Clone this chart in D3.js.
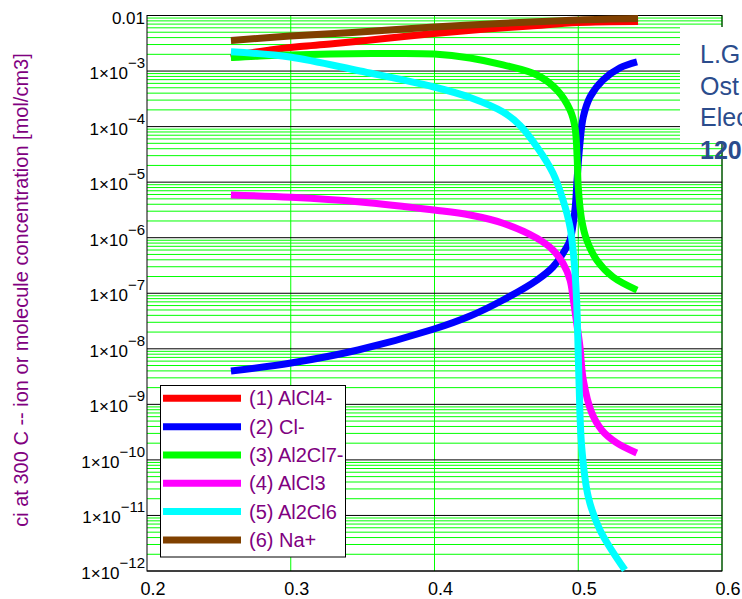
<!DOCTYPE html>
<html>
<head>
<meta charset="utf-8">
<script src="https://cdn.jsdelivr.net/npm/d3@7"></script>
<style>
  html, body { margin: 0; padding: 0; background: #fff; overflow: hidden; }
  svg { display: block; font-family: "Liberation Sans", Arial, sans-serif; }
</style>
</head>
<body>
<svg id="chart" width="742" height="599"></svg>
<script>
// ---- data (x = abscissa, c = concentration in mol/cm3) ----
const seriesNames = ["(1) AlCl4-", "(2) Cl-", "(3) Al2Cl7-", "(4) AlCl3", "(5) Al2Cl6", "(6) Na+"];
const seriesColors = ["#ff0000", "#0000ff", "#00ff00", "#ff00ff", "#00ffff", "#804000"];

const alcl4 = [
  [0.2584, 1.75e-3], [0.2717, 2.11e-3], [0.2856, 2.39e-3], [0.3064, 2.77e-3], [0.3273, 3.07e-3],
  [0.3621, 3.78e-3], [0.3997, 4.74e-3], [0.4317, 5.60e-3], [0.4664, 6.47e-3], [0.4998, 7.48e-3],
  [0.5416, 7.80e-3]
];
const clMinus = [
  [0.2584, 3.98e-9], [0.3002, 5.55e-9], [0.3468, 9.51e-9], [0.3997, 2.27e-8], [0.4247, 3.89e-8],
  [0.4477, 7.57e-8], [0.4713, 1.73e-7], [0.4824, 2.97e-7], [0.4908, 6.01e-7], [0.4943, 9.09e-7],
  [0.4977, 3.16e-6], [0.4993, 1.24e-5], [0.5012, 5.07e-5], [0.5035, 1.49e-4], [0.5082, 3.41e-4],
  [0.5172, 6.90e-4], [0.5290, 1.14e-3], [0.5409, 1.46e-3]
];
const al2cl7 = [
  [0.2584, 1.75e-3], [0.2786, 1.87e-3], [0.2995, 1.95e-3], [0.3273, 2.03e-3], [0.3621, 2.07e-3],
  [0.3997, 2.03e-3], [0.4247, 1.72e-3], [0.4477, 1.29e-3], [0.4713, 8.49e-4], [0.4852, 4.56e-4],
  [0.4943, 1.99e-4], [0.4977, 9.84e-5], [0.4993, 2.51e-5], [0.5000, 8.18e-6], [0.5024, 2.08e-6],
  [0.5059, 9.09e-7], [0.5128, 3.97e-7], [0.5242, 1.96e-7], [0.5409, 1.14e-7]
];
const alcl3 = [
  [0.2584, 5.87e-6], [0.3002, 5.34e-6], [0.3468, 4.45e-6], [0.3997, 3.15e-6], [0.4247, 2.56e-6],
  [0.4477, 1.82e-6], [0.4713, 9.75e-7], [0.4824, 6.00e-7], [0.4894, 3.46e-7], [0.4943, 1.73e-7],
  [0.4966, 7.57e-8], [0.4991, 2.69e-8], [0.5012, 1.08e-8], [0.5035, 2.75e-9], [0.5094, 7.00e-10],
  [0.5163, 3.46e-10], [0.5268, 2.02e-10], [0.5407, 1.33e-10]
];
const al2cl6 = [
  [0.2584, 2.23e-3], [0.2995, 1.79e-3], [0.3482, 1.00e-3], [0.3997, 5.16e-4], [0.4247, 3.34e-4],
  [0.4477, 1.83e-4], [0.4595, 1.05e-4], [0.4713, 4.30e-5], [0.4824, 1.46e-5],
  [0.4894, 4.78e-6], [0.4943, 1.56e-6], [0.4966, 5.31e-7], [0.4984, 1.30e-7], [0.4993, 3.74e-8],
  [0.5005, 2.75e-9], [0.5024, 1.71e-10], [0.5070, 2.15e-11], [0.5151, 5.47e-12], [0.5325, 1.04e-12]
];
const naPlus = [
  [0.2584, 3.55e-3], [0.2995, 4.27e-3], [0.3482, 5.05e-3], [0.3997, 6.21e-3], [0.4456, 7.18e-3],
  [0.4998, 8.30e-3], [0.5416, 8.83e-3]
];
const seriesData = [alcl4, clMinus, al2cl7, alcl3, al2cl6, naPlus];

const xTicks = [0.2, 0.3, 0.4, 0.5, 0.6];
const xTickLabels = ["0.2", "0.3", "0.4", "0.5", "0.6"];
const yDecadeExponents = [-2, -3, -4, -5, -6, -7, -8, -9, -10, -11, -12];
const yAxisTitle = "ci at 300 C -- ion or molecule concentration [mol/cm3]";
const noteLines = ["L.G", "Ost", "Elec", "120"];

// ---- layout ----
const svg = d3.select("#chart");
const x = d3.scaleLinear().domain([0.2, 0.6]).range([147, 722]);
const y = d3.scaleLog().domain([1e-12, 1e-2]).range([571, 15.5]);
const [x0, x1] = x.range();

// minor horizontal gridlines (green)
const minor = [];
for (let e = -12; e < -2; e++) for (let k = 2; k <= 9; k++) minor.push(k * Math.pow(10, e));
svg.append("g").selectAll("line").data(minor).join("line")
  .attr("x1", x0).attr("x2", x1)
  .attr("y1", d => y(d)).attr("y2", d => y(d))
  .attr("stroke", "#00ff00").attr("stroke-width", 1);

// vertical gridlines (green)
svg.append("g").selectAll("line").data(xTicks.slice(1)).join("line")
  .attr("x1", d => x(d)).attr("x2", d => x(d))
  .attr("y1", y.range()[1]).attr("y2", y.range()[0])
  .attr("stroke", "#00ff00").attr("stroke-width", 1);

// decade gridlines (black)
svg.append("g").selectAll("line").data(yDecadeExponents).join("line")
  .attr("x1", x0).attr("x2", x1)
  .attr("y1", d => y(Math.pow(10, d))).attr("y2", d => y(Math.pow(10, d)))
  .attr("stroke", "#000").attr("stroke-width", 1);

// frame
svg.append("rect").attr("x", x0).attr("y", y.range()[1])
  .attr("width", x1 - x0).attr("height", y.range()[0] - y.range()[1])
  .attr("fill", "none").attr("stroke", "#000").attr("stroke-width", 1);

// curves
const line = d3.line().x(d => x(d[0])).y(d => y(d[1])).curve(d3.curveCatmullRom.alpha(0.5));
svg.append("g").selectAll("path").data(seriesData).join("path")
  .attr("d", d => line(d))
  .attr("fill", "none")
  .attr("stroke", (d, i) => seriesColors[i])
  .attr("stroke-width", 7)
  .attr("stroke-linejoin", "round");

// x tick labels
svg.append("g").selectAll("text").data(xTicks).join("text")
  .attr("x", d => x(d) + 6).attr("y", 595)
  .attr("text-anchor", "middle")
  .attr("font-size", 18).attr("fill", "#000")
  .text((d, i) => xTickLabels[i]);

// y tick labels
const yl = svg.append("g").selectAll("text").data(yDecadeExponents).join("text")
  .attr("x", 145).attr("y", d => y(Math.pow(10, d)) + 8)
  .attr("text-anchor", "end").attr("font-size", 17).attr("fill", "#000");
yl.each(function (d) {
  const t = d3.select(this);
  if (d === -2) { t.text("0.01"); return; }
  t.append("tspan").text("1\u00d710");
  t.append("tspan").attr("dy", -11).attr("font-size", 15).text("\u2212" + Math.abs(d));
});

// y axis title
svg.append("text")
  .attr("transform", "translate(28,290) rotate(-90)")
  .attr("text-anchor", "middle")
  .attr("font-size", 20).attr("fill", "#800080")
  .text(yAxisTitle);

// legend
const lg = svg.append("g");
lg.append("rect").attr("x", 160.5).attr("y", 385.5).attr("width", 185).attr("height", 171.5)
  .attr("fill", "#fff").attr("stroke", "#000").attr("stroke-width", 1);
const le = lg.selectAll("g").data(seriesNames).join("g")
  .attr("transform", (d, i) => `translate(0,${398.3 + i * 28.33})`);
le.append("line").attr("x1", 163).attr("x2", 241).attr("y1", 0).attr("y2", 0)
  .attr("stroke", (d, i) => seriesColors[i]).attr("stroke-width", 7);
le.append("text").attr("x", 249).attr("y", 7)
  .attr("font-size", 20).attr("fill", "#800080").text(d => d);

// note box on the right (cut by the page edge, as in the reference)
svg.append("rect").attr("x", 680).attr("y", 27).attr("width", 70).attr("height", 116).attr("fill", "#fff");
svg.append("g").selectAll("text").data(noteLines).join("text")
  .attr("x", 700).attr("y", (d, i) => [63, 95, 126, 159][i])
  .attr("font-size", 25).attr("fill", "#2b4c8c")
  .attr("font-weight", (d, i) => i === 3 ? "bold" : "normal")
  .text(d => d);
</script>
</body>
</html>
